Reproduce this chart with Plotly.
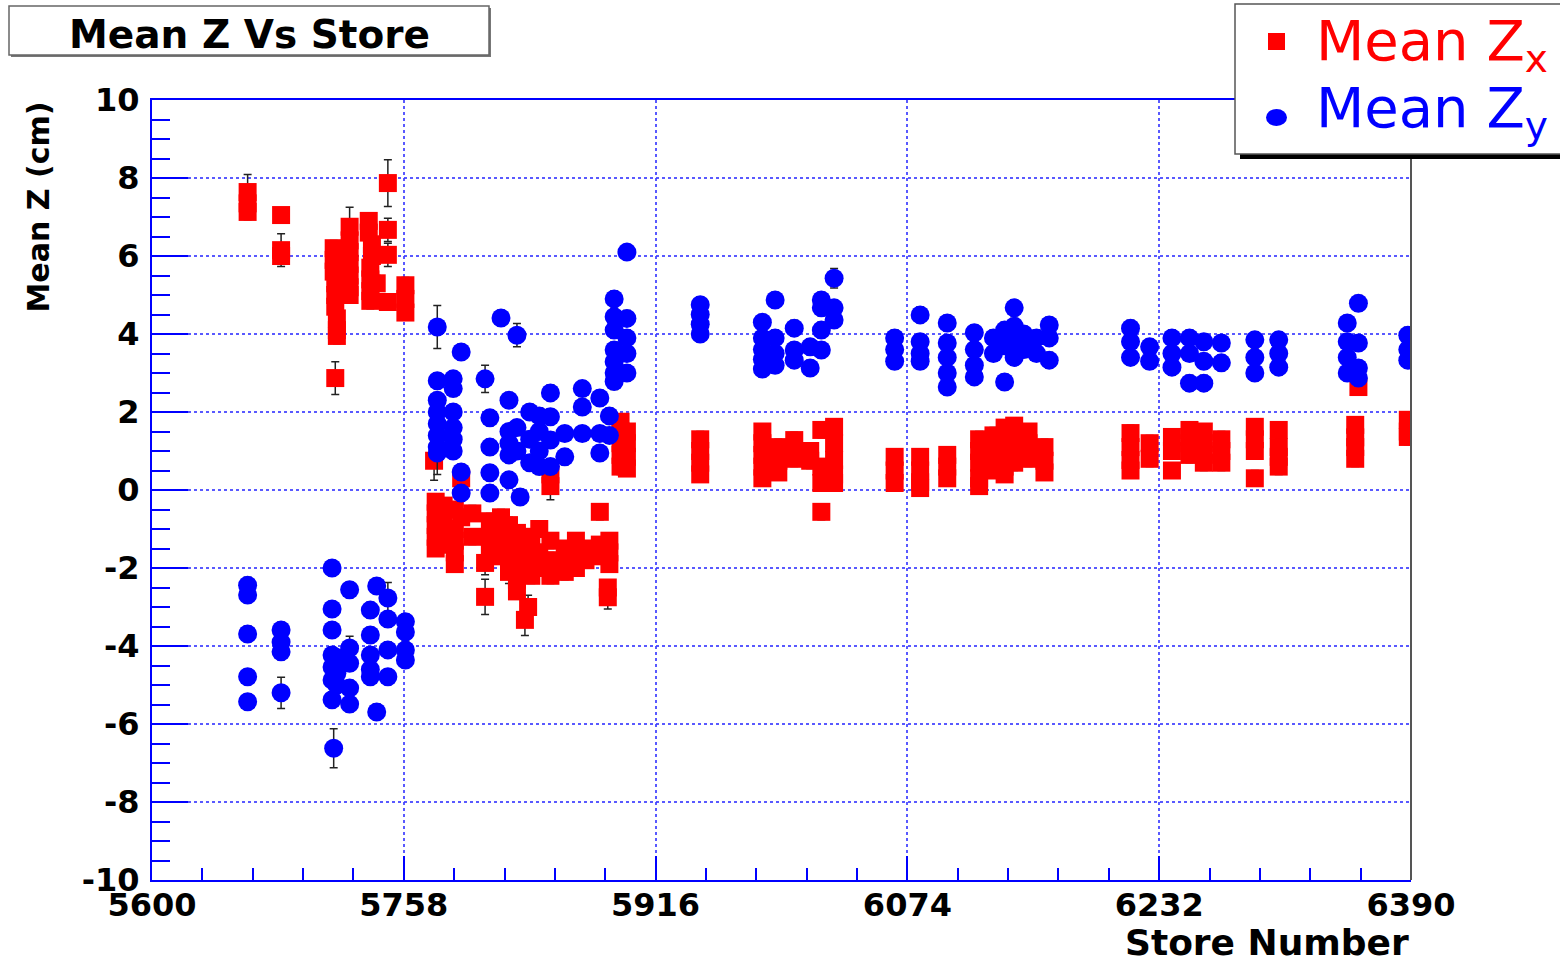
import plotly.graph_objects as go

# ---------------- data ----------------
# Mean Z_x : (store, mean z [cm], error)
zx_points = [
    (5660, 7.64, 0.45), (5660, 7.35, 0.2), (5660, 7.13, 0.2),
    (5681, 7.05, 0.15), (5681, 6.15, 0.42), (5681, 6.0, 0.2),
    (5714, 6.2, 0.2), (5714, 5.9, 0.2), (5714, 5.6, 0.2), (5715, 5.3, 0.2), (5715, 5.0, 0.2),
    (5715, 4.7, 0.2), (5716, 4.4, 0.2), (5716, 4.1, 0.2), (5716, 3.95, 0.2), (5715, 2.87, 0.42),
    (5724, 6.75, 0.5), (5724, 6.4, 0.2), (5724, 6.1, 0.2), (5724, 5.8, 0.2), (5724, 5.5, 0.2),
    (5724, 5.2, 0.2), (5724, 5.0, 0.2), (5720, 5.6, 0.2),
    (5736, 6.9, 0.2), (5736, 6.6, 0.2), (5738, 6.3, 0.2), (5738, 6.0, 0.2), (5737, 5.7, 0.2),
    (5737, 5.4, 0.2), (5737, 5.1, 0.2), (5737, 4.85, 0.2), (5741, 5.3, 0.2),
    (5748, 7.87, 0.6), (5748, 6.67, 0.3), (5748, 6.03, 0.3), (5748, 4.82, 0.2),
    (5759, 5.25, 0.2), (5759, 4.9, 0.2), (5759, 4.55, 0.2),
    (5777, 0.75, 0.5), (5778, -0.3, 0.2), (5778, -0.6, 0.2), (5778, -0.9, 0.2), (5778, -1.2, 0.2),
    (5778, -1.5, 0.2), (5783, -0.4, 0.2), (5783, -0.8, 0.2), (5783, -1.1, 0.2), (5783, -1.4, 0.2),
    (5790, -0.5, 0.2), (5790, -1.0, 0.2), (5790, -1.3, 0.2), (5790, -1.6, 0.2), (5790, -1.9, 0.2),
    (5794, 0.3, 0.2), (5794, -0.7, 0.2), (5801, -0.6, 0.2), (5801, -1.2, 0.2),
    (5809, -1.87, 0.3), (5809, -2.74, 0.45),
    (5812, -0.8, 0.2), (5812, -1.2, 0.2), (5812, -1.5, 0.2),
    (5819, -0.7, 0.2), (5819, -1.0, 0.2), (5819, -1.4, 0.2), (5819, -1.7, 0.2),
    (5824, -0.9, 0.2), (5824, -1.3, 0.2), (5824, -1.8, 0.2), (5824, -2.1, 0.3),
    (5829, -1.1, 0.2), (5829, -1.5, 0.2), (5829, -2.0, 0.2), (5829, -2.3, 0.2), (5829, -2.6, 0.2),
    (5835, -1.2, 0.2), (5835, -1.7, 0.2), (5835, -2.0, 0.2), (5836, -3.0, 0.3), (5834, -3.33, 0.4),
    (5838, -1.4, 0.2), (5838, -1.9, 0.2), (5838, -2.2, 0.2),
    (5843, -1.0, 0.2), (5843, -1.6, 0.2), (5843, -2.0, 0.2),
    (5850, 0.1, 0.35), (5850, 0.4, 0.2), (5850, -1.3, 0.2), (5850, -1.8, 0.2), (5850, -2.2, 0.2),
    (5859, -1.5, 0.2), (5859, -1.9, 0.2), (5859, -2.1, 0.2),
    (5866, -1.3, 0.2), (5866, -1.7, 0.2), (5866, -2.0, 0.2),
    (5872, -1.5, 0.2), (5872, -1.8, 0.2),
    (5881, -0.56, 0.2), (5881, -1.4, 0.2), (5881, -1.7, 0.2),
    (5887, -1.3, 0.2), (5887, -1.6, 0.2), (5887, -1.9, 0.2), (5886, -2.5, 0.2), (5886, -2.75, 0.3),
    (5894, 1.75, 0.2), (5894, 1.5, 0.2), (5894, 1.2, 0.2), (5894, 0.9, 0.2), (5894, 0.6, 0.2),
    (5898, 1.5, 0.2), (5898, 1.2, 0.2), (5898, 0.85, 0.2), (5898, 0.55, 0.2),
    (5944, 1.3, 0.2), (5944, 1.0, 0.2), (5944, 0.7, 0.2), (5944, 0.4, 0.2),
    (5983, 1.5, 0.2), (5983, 1.2, 0.2), (5983, 0.9, 0.2), (5983, 0.6, 0.2), (5983, 0.3, 0.2),
    (5993, 1.1, 0.2), (5993, 0.75, 0.2), (5993, 0.45, 0.2),
    (6003, 1.28, 0.2), (6003, 0.95, 0.2), (6003, 0.8, 0.2),
    (6013, 1.0, 0.2), (6013, 0.75, 0.2),
    (6020, 1.54, 0.2), (6020, 0.6, 0.2), (6020, 0.18, 0.2), (6020, -0.56, 0.2),
    (6028, 1.62, 0.2), (6028, 1.2, 0.2), (6028, 0.77, 0.2), (6028, 0.4, 0.2), (6028, 0.18, 0.2),
    (6066, 0.85, 0.2), (6066, 0.5, 0.2), (6066, 0.18, 0.2),
    (6082, 0.85, 0.2), (6082, 0.5, 0.2), (6082, 0.2, 0.2), (6082, 0.05, 0.2),
    (6099, 0.9, 0.2), (6099, 0.6, 0.2), (6099, 0.3, 0.2),
    (6119, 1.3, 0.2), (6119, 1.0, 0.2), (6119, 0.7, 0.2), (6119, 0.3, 0.2), (6119, 0.1, 0.2),
    (6128, 1.4, 0.2), (6128, 1.1, 0.2), (6128, 0.8, 0.2), (6128, 0.5, 0.2),
    (6135, 1.6, 0.2), (6135, 1.3, 0.2), (6135, 1.0, 0.2), (6135, 0.6, 0.2), (6135, 0.4, 0.2),
    (6141, 1.65, 0.2), (6141, 1.3, 0.2), (6141, 1.0, 0.2), (6141, 0.7, 0.2),
    (6150, 1.5, 0.2), (6150, 1.2, 0.2), (6150, 0.8, 0.2),
    (6160, 1.1, 0.2), (6160, 0.75, 0.2), (6160, 0.45, 0.2),
    (6214, 1.46, 0.2), (6214, 1.1, 0.2), (6214, 0.77, 0.2), (6214, 0.5, 0.2),
    (6226, 1.2, 0.2), (6226, 0.8, 0.2),
    (6240, 1.36, 0.2), (6240, 1.0, 0.2), (6240, 0.5, 0.2),
    (6251, 1.54, 0.2), (6251, 1.2, 0.2), (6251, 0.9, 0.2),
    (6260, 1.5, 0.2), (6260, 1.2, 0.2), (6260, 0.9, 0.2), (6260, 0.7, 0.2),
    (6271, 1.3, 0.2), (6271, 1.0, 0.2), (6271, 0.7, 0.2),
    (6292, 1.62, 0.2), (6292, 1.3, 0.2), (6292, 1.0, 0.2), (6292, 0.3, 0.2),
    (6307, 1.54, 0.2), (6307, 1.1, 0.2), (6307, 0.85, 0.2), (6307, 0.6, 0.2),
    (6355, 1.67, 0.2), (6355, 1.35, 0.2), (6355, 1.1, 0.2), (6355, 0.8, 0.2),
    (6357, 2.64, 0.2),
    (6388, 1.8, 0.2), (6388, 1.5, 0.2), (6388, 1.36, 0.2),
]

# Mean Z_y : (store, mean z [cm], error)
zy_points = [
    (5660, -2.44, 0.2), (5660, -2.69, 0.2), (5660, -3.69, 0.2), (5660, -4.79, 0.2), (5660, -5.43, 0.2),
    (5681, -3.59, 0.2), (5681, -3.9, 0.2), (5681, -4.15, 0.2), (5681, -5.2, 0.4),
    (5713, -2.0, 0.2), (5713, -3.05, 0.2), (5713, -3.59, 0.2), (5713, -4.23, 0.2), (5713, -4.54, 0.2),
    (5713, -4.87, 0.2), (5713, -5.38, 0.2), (5714, -6.62, 0.5),
    (5716, -4.3, 0.2), (5716, -4.7, 0.2), (5716, -5.0, 0.2),
    (5724, -2.56, 0.2), (5724, -4.05, 0.3), (5724, -4.44, 0.2), (5724, -5.08, 0.2), (5724, -5.49, 0.2),
    (5737, -3.08, 0.2), (5737, -3.72, 0.2), (5737, -4.23, 0.2), (5737, -4.6, 0.2), (5737, -4.79, 0.2),
    (5741, -2.46, 0.2), (5741, -5.69, 0.2),
    (5748, -2.77, 0.4), (5748, -3.31, 0.2), (5748, -4.1, 0.2), (5748, -4.79, 0.2),
    (5759, -3.38, 0.2), (5759, -3.64, 0.2), (5759, -4.1, 0.2), (5759, -4.36, 0.2),
    (5779, 4.18, 0.55), (5779, 2.8, 0.2), (5779, 2.3, 0.2), (5779, 2.0, 0.2), (5779, 1.7, 0.2),
    (5779, 1.4, 0.2), (5779, 1.1, 0.2), (5779, 0.95, 0.55),
    (5789, 2.85, 0.2), (5789, 2.6, 0.2), (5789, 2.0, 0.2), (5789, 1.6, 0.2), (5789, 1.3, 0.2), (5789, 1.0, 0.2),
    (5794, 3.54, 0.2), (5794, 0.46, 0.2), (5794, -0.08, 0.2),
    (5809, 2.85, 0.35),
    (5812, 1.85, 0.2), (5812, 1.1, 0.2), (5812, 0.44, 0.2), (5812, -0.08, 0.2),
    (5819, 4.41, 0.2),
    (5824, 2.3, 0.2), (5824, 1.5, 0.2), (5824, 1.2, 0.2), (5824, 0.9, 0.2), (5824, 0.26, 0.2),
    (5829, 3.97, 0.3), (5829, 1.6, 0.2), (5829, 1.0, 0.2), (5831, -0.18, 0.2),
    (5837, 2.0, 0.2), (5837, 1.3, 0.2), (5837, 0.7, 0.2),
    (5843, 1.9, 0.2), (5843, 1.5, 0.2), (5843, 1.0, 0.2), (5843, 0.6, 0.2),
    (5850, 2.49, 0.2), (5850, 1.88, 0.2), (5850, 1.28, 0.2), (5850, 0.6, 0.2),
    (5859, 1.45, 0.2), (5859, 0.85, 0.2),
    (5870, 2.6, 0.2), (5870, 2.13, 0.2), (5870, 1.45, 0.2),
    (5881, 2.36, 0.2), (5881, 1.45, 0.2), (5881, 0.95, 0.2),
    (5887, 1.9, 0.2), (5887, 1.4, 0.2),
    (5890, 4.9, 0.2), (5890, 4.44, 0.2), (5890, 4.1, 0.2), (5890, 3.59, 0.2), (5890, 3.29, 0.2),
    (5890, 3.0, 0.2), (5890, 2.78, 0.2),
    (5898, 6.1, 0.15), (5898, 4.4, 0.2), (5898, 3.9, 0.2), (5898, 3.5, 0.2), (5898, 3.0, 0.2),
    (5944, 4.75, 0.2), (5944, 4.5, 0.2), (5944, 4.25, 0.2), (5944, 4.0, 0.2),
    (5983, 4.3, 0.2), (5983, 3.9, 0.2), (5983, 3.6, 0.2), (5983, 3.35, 0.2), (5983, 3.1, 0.2),
    (5991, 4.87, 0.2), (5991, 3.9, 0.2), (5991, 3.5, 0.2), (5991, 3.2, 0.2),
    (6003, 4.15, 0.2), (6003, 3.59, 0.2), (6003, 3.33, 0.2),
    (6013, 3.67, 0.2), (6013, 3.13, 0.2),
    (6020, 4.87, 0.2), (6020, 4.67, 0.2), (6020, 4.1, 0.2), (6020, 3.59, 0.2),
    (6028, 5.43, 0.25), (6028, 4.67, 0.2), (6028, 4.36, 0.2),
    (6066, 3.9, 0.2), (6066, 3.6, 0.2), (6066, 3.3, 0.2),
    (6082, 4.49, 0.2), (6082, 3.8, 0.2), (6082, 3.5, 0.2), (6082, 3.3, 0.2),
    (6099, 4.28, 0.2), (6099, 3.77, 0.2), (6099, 3.4, 0.2), (6099, 3.0, 0.2), (6099, 2.64, 0.2),
    (6116, 4.03, 0.2), (6116, 3.6, 0.2), (6116, 3.2, 0.2), (6116, 2.9, 0.2),
    (6128, 3.9, 0.2), (6128, 3.5, 0.2),
    (6135, 2.77, 0.2), (6135, 4.1, 0.2), (6135, 3.7, 0.2),
    (6141, 4.67, 0.2), (6141, 4.2, 0.2), (6141, 3.8, 0.2), (6141, 3.4, 0.2),
    (6147, 4.0, 0.2), (6147, 3.6, 0.2),
    (6155, 3.9, 0.2), (6155, 3.5, 0.2),
    (6163, 4.23, 0.2), (6163, 3.9, 0.2), (6163, 3.33, 0.2),
    (6214, 4.15, 0.2), (6214, 3.8, 0.2), (6214, 3.4, 0.2),
    (6226, 3.67, 0.2), (6226, 3.3, 0.2),
    (6240, 3.9, 0.2), (6240, 3.5, 0.2), (6240, 3.15, 0.2),
    (6251, 3.9, 0.2), (6251, 3.5, 0.2), (6251, 2.74, 0.2),
    (6260, 3.8, 0.2), (6260, 3.3, 0.2), (6260, 2.74, 0.2),
    (6271, 3.77, 0.2), (6271, 3.26, 0.2),
    (6292, 3.85, 0.2), (6292, 3.4, 0.2), (6292, 3.0, 0.2),
    (6307, 3.85, 0.2), (6307, 3.5, 0.2), (6307, 3.15, 0.2),
    (6350, 4.28, 0.2), (6350, 3.8, 0.2), (6350, 3.4, 0.2), (6350, 3.0, 0.2),
    (6357, 4.79, 0.2), (6357, 3.77, 0.2), (6357, 3.13, 0.2), (6357, 2.87, 0.2),
    (6388, 3.97, 0.2), (6388, 3.6, 0.2), (6388, 3.33, 0.2),
]

x_tick_values = [5600, 5758, 5916, 6074, 6232, 6390]
y_tick_values = [-10, -8, -6, -4, -2, 0, 2, 4, 6, 8, 10]

title_text = "Mean Z Vs Store"
x_title = "Store Number"
y_title = "Mean Z (cm)"
legend_labels = ["Mean Z<sub>x</sub>", "Mean Z<sub>y</sub>"]

# ---------------- figure ----------------
W, H = 1560, 965
L, R, T, B = 152, 149, 100, 85
PW, PH = W - L - R, H - T - B


def xp(px):
    return (px - L) / PW


def yp(py):
    return (H - B - py) / PH


BOLD = dict(family="DejaVu Sans", color="black", weight="bold")
BLUE = "#0000ff"
RED = "#ff0000"

fig = go.Figure()

fig.add_trace(go.Scatter(
    x=[p[0] for p in zx_points], y=[p[1] for p in zx_points],
    mode="markers", name="Mean Z_x", showlegend=False,
    marker=dict(symbol="square", size=18, color=RED, line=dict(width=0)),
    error_y=dict(type="data", array=[p[2] for p in zx_points], color="#222222", thickness=1.5, width=4),
))
fig.add_trace(go.Scatter(
    x=[p[0] for p in zy_points], y=[p[1] for p in zy_points],
    mode="markers", name="Mean Z_y", showlegend=False,
    marker=dict(symbol="circle", size=19, color=BLUE, line=dict(width=0)),
    error_y=dict(type="data", array=[p[2] for p in zy_points], color="#222222", thickness=1.5, width=4),
))

grid_color = "rgba(60,60,255,0.85)"

fig.update_xaxes(
    range=[5600, 6390], tickmode="array", tickvals=x_tick_values,
    ticktext=[str(v) for v in x_tick_values],
    ticks="inside", ticklen=24, tickwidth=1.5, tickcolor=BLUE,
    showline=True, linecolor=BLUE, linewidth=2, mirror=True,
    showgrid=True, gridcolor=grid_color, griddash="dot", gridwidth=1.5,
    zeroline=False, tickfont=dict(size=32, **BOLD), ticklabelstandoff=-4,
    minor=dict(tickmode="linear", tick0=5600, dtick=31.6, ticks="inside", ticklen=12,
               tickcolor=BLUE, tickwidth=1.5, showgrid=False),
)
fig.update_yaxes(
    range=[-10, 10], tickmode="array", tickvals=y_tick_values,
    ticktext=[str(v) for v in y_tick_values],
    ticks="inside", ticklen=36, tickwidth=1.5, tickcolor=BLUE,
    showline=True, linecolor=BLUE, linewidth=2, mirror=False,
    showgrid=True, gridcolor=grid_color, griddash="dot", gridwidth=1.5,
    zeroline=False, tickfont=dict(size=32, **BOLD), ticklabelstandoff=4,
    minor=dict(tickmode="linear", tick0=-10, dtick=0.5, ticks="inside", ticklen=18,
               tickcolor=BLUE, tickwidth=1.5, showgrid=False),
)

shapes = [
    # right frame border
    dict(type="line", xref="paper", yref="paper", x0=1, x1=1, y0=0, y1=1,
         line=dict(color="#555555", width=2)),
    # title box shadow + box
    dict(type="rect", xref="paper", yref="paper", x0=xp(11), x1=xp(491), y0=yp(8), y1=yp(57),
         line=dict(width=0), fillcolor="#777777"),
    dict(type="rect", xref="paper", yref="paper", x0=xp(9), x1=xp(489), y0=yp(6), y1=yp(55),
         line=dict(color="#666666", width=1.5), fillcolor="white"),
    # legend box shadow + box
    dict(type="rect", xref="paper", yref="paper", x0=xp(1240), x1=xp(1570), y0=yp(152), y1=yp(159),
         line=dict(width=0), fillcolor="black"),
    dict(type="rect", xref="paper", yref="paper", x0=xp(1235), x1=xp(1570), y0=yp(4), y1=yp(154),
         line=dict(color="#555555", width=1.5), fillcolor="white"),
    # legend symbols
    dict(type="rect", xref="paper", yref="paper", x0=xp(1268), x1=xp(1285), y0=yp(33), y1=yp(50),
         line=dict(width=0), fillcolor=RED),
    dict(type="circle", xref="paper", yref="paper", x0=xp(1266), x1=xp(1287), y0=yp(109), y1=yp(126),
         line=dict(width=0), fillcolor=BLUE),
]

annotations = [
    dict(text=title_text, xref="paper", yref="paper", x=xp(249), y=yp(34),
         xanchor="center", yanchor="middle", showarrow=False, font=dict(size=39, **BOLD)),
    dict(text=y_title, xref="paper", yref="paper", x=xp(38), y=yp(100),
         xanchor="center", yanchor="top", textangle=-90, showarrow=False, font=dict(size=30, **BOLD)),
    dict(text=x_title, xref="paper", yref="paper", x=xp(1411), y=yp(942),
         xanchor="right", yanchor="middle", showarrow=False, font=dict(size=36, **BOLD)),
    dict(text=legend_labels[0], xref="paper", yref="paper", x=xp(1314), y=yp(44),
         xanchor="left", yanchor="middle", showarrow=False,
         font=dict(family="DejaVu Sans", size=56, color=RED)),
    dict(text=legend_labels[1], xref="paper", yref="paper", x=xp(1314), y=yp(112),
         xanchor="left", yanchor="middle", showarrow=False,
         font=dict(family="DejaVu Sans", size=56, color=BLUE)),
]

fig.update_layout(
    width=W, height=H, autosize=False,
    margin=dict(l=L, r=R, t=T, b=B, pad=0),
    paper_bgcolor="white", plot_bgcolor="white",
    shapes=shapes, annotations=annotations, showlegend=False,
)

fig.write_html("out.html", include_plotlyjs=True, config={"displayModeBar": False},
               post_script="document.body.style.margin='0';document.body.style.overflow='hidden';")
